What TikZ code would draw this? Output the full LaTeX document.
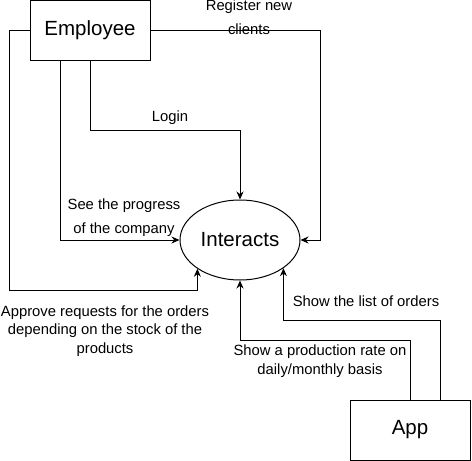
\documentclass[tikz,border=0pt]{standalone}
\usepackage{fontspec}
\setmainfont{Liberation Sans}
\usetikzlibrary{arrows.meta,shapes.geometric,calc}

\tikzset{
  box/.style={draw,line width=1pt,minimum width=120pt,minimum height=60pt,inner sep=0pt,font=\fontsize{20.5}{24}\selectfont},
  proc/.style={draw,ellipse,line width=1pt,minimum width=120pt,minimum height=80pt,inner sep=0pt,font=\fontsize{20.5}{24}\selectfont},
  flow/.style={line width=1pt,-{Stealth[length=8pt,width=7pt]}},
  lbl/.style={align=center,inner sep=0pt,font=\fontsize{14.8}{18.5}\selectfont}
}

\begin{document}
\begin{tikzpicture}[x=1pt,y=-1pt]
\useasboundingbox (0,0) rectangle (472,461);

% entities
\node[box] (emp) at (90,30) {Employee};
\node[box] (app) at (410,430) {App};
\node[proc] (inter) at (240,240) {Interacts};

% employee flows
\draw[flow] (emp.south) -- ++(0,70) -| (inter.north);
\draw[flow] ([xshift=-30pt]emp.south) |- (inter.west);
\draw[flow] (emp.east) -| ($(inter.east)+(20,0)$) -- (inter.east);
\draw[flow] (emp.west) -- ++(-20,0) |- (inter.-146 |- 0,290) -- (inter.-146);

% app flows
\draw[flow] ([xshift=30pt]app.north) |- (inter.-33 |- 0,320) -- (inter.-33);
\draw[flow] (app.north) |- ($(inter.south)+(0,60)$) -- (inter.south);

% labels
\node[lbl] (lreg) at (249,17) {Register new\\[5.5pt]clients};
\node[lbl] (llog) at (170,118) {Login};
\node[lbl] (lprog) at (124,218) {See the progress\\[5.5pt]of the company};
\node[lbl] (lapr) at (105,331) {Approve requests for the orders\\depending on the stock of the\\products};
\node[lbl] (lord) at (366,301) {Show the list of orders};
\node[lbl] (lrate) at (320,361) {Show a production rate on\\daily/monthly basis};

\end{tikzpicture}
\end{document}
